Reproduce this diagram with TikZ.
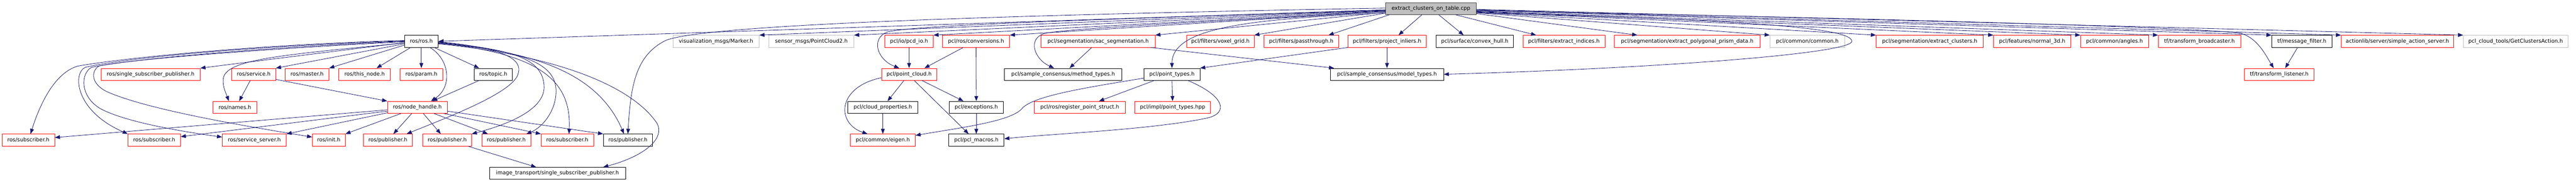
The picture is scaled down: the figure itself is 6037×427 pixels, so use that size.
\documentclass[tikz,border=0pt]{standalone}
\usepackage{fontspec}
\setmainfont{DejaVu Sans}
\usetikzlibrary{arrows.meta}
\definecolor{edgeblue}{HTML}{191970}
\definecolor{nodegray}{HTML}{BFBFBF}
\tikzset{
  filebox/.style={draw,rectangle,minimum height=28pt,inner sep=0pt,line width=1pt,fill=white,
    font=\fontsize{12.4}{14}\selectfont},
  redfile/.style={filebox,draw=red},
  blackfile/.style={filebox,draw=black},
  grayfile/.style={filebox,draw=nodegray},
  rootfile/.style={filebox,draw=black!75,fill=nodegray},
  every scope/.style={>={Triangle[length=12pt,width=9pt]},line width=1pt},
  incl/.style={->,draw=edgeblue}
}

\begin{document}
\begin{tikzpicture}[x=1pt,y=-1pt]
\useasboundingbox (0,0) rectangle (6037,427);
\begin{scope}
% the source file
\node[rootfile,minimum width=213pt] (R) at (3353.5,20) {extract\_clusters\_on\_table.cpp};

% row 1
\node[blackfile,minimum width=79pt]  (rosh)    at (987.5,97)  {ros/ros.h};
\node[grayfile,minimum width=202pt]  (marker)  at (1678,97)   {visualization\_msgs/Marker.h};
\node[grayfile,minimum width=199pt]  (pc2)     at (1901.5,97) {sensor\_msgs/PointCloud2.h};
\node[redfile,minimum width=113pt]   (pcdio)   at (2130.5,97) {pcl/io/pcd\_io.h};
\node[redfile,minimum width=157pt]   (conv)    at (2287.5,97) {pcl/ros/conversions.h};
\node[redfile,minimum width=267pt]   (sacseg)  at (2573.5,97) {pcl/segmentation/sac\_segmentation.h};
\node[redfile,minimum width=158pt]   (voxel)   at (2860,97)   {pcl/filters/voxel\_grid.h};
\node[redfile,minimum width=175pt]   (pass)    at (3049.5,97) {pcl/filters/passthrough.h};
\node[redfile,minimum width=183pt]   (projinl) at (3250.5,97) {pcl/filters/project\_inliers.h};
\node[blackfile,minimum width=182pt] (hull)    at (3456,97)   {pcl/surface/convex\_hull.h};
\node[redfile,minimum width=192pt]   (extind)  at (3665,97)   {pcl/filters/extract\_indices.h};
\node[redfile,minimum width=342pt]   (prism)   at (3954,97)   {pcl/segmentation/extract\_polygonal\_prism\_data.h};
\node[grayfile,minimum width=175pt]  (common)  at (4235.5,97) {pcl/common/common.h};
\node[redfile,minimum width=251pt]   (extclu)  at (4522.5,97) {pcl/segmentation/extract\_clusters.h};
\node[redfile,minimum width=181pt]   (normal)  at (4762.5,97) {pcl/features/normal\_3d.h};
\node[redfile,minimum width=159pt]   (angles)  at (4955.5,97) {pcl/common/angles.h};
\node[redfile,minimum width=193pt]   (tfbc)    at (5154.5,97) {tf/transform\_broadcaster.h};
\node[blackfile,minimum width=141pt] (msgfilt) at (5394.5,97) {tf/message\_filter.h};
\node[redfile,minimum width=263pt]   (sas)     at (5618.5,97) {actionlib/server/simple\_action\_server.h};
\node[grayfile,minimum width=245pt]  (getcl)   at (5895.5,97) {pcl\_cloud\_tools/GetClustersAction.h};

% row 2
\node[redfile,minimum width=232pt]   (ssp)      at (353,174.5)    {ros/single\_subscriber\_publisher.h};
\node[redfile,minimum width=103pt]   (service)  at (594.5,174.5)  {ros/service.h};
\node[redfile,minimum width=103pt]   (master)   at (719.5,174.5)  {ros/master.h};
\node[redfile,minimum width=121pt]   (thisnode) at (854.5,174.5)  {ros/this\_node.h};
\node[redfile,minimum width=101pt]   (param)    at (987.5,174.5)  {ros/param.h};
\node[blackfile,minimum width=90pt]  (topic)    at (1156,174.5)   {ros/topic.h};
\node[redfile,minimum width=129pt]   (ptcloud)  at (2130.5,174.5) {pcl/point\_cloud.h};
\node[blackfile,minimum width=275pt] (method)   at (2491.5,174.5) {pcl/sample\_consensus/method\_types.h};
\node[blackfile,minimum width=131pt] (ptypes)   at (2746.5,174.5) {pcl/point\_types.h};
\node[blackfile,minimum width=265pt] (model)    at (3250.5,174.5) {pcl/sample\_consensus/model\_types.h};
\node[redfile,minimum width=163pt]   (tflist)   at (5341.5,174.5) {tf/transform\_listener.h};

% row 3
\node[redfile,minimum width=103pt]   (names)  at (550.5,252) {ros/names.h};
\node[redfile,minimum width=140pt]   (nh)     at (978,252)   {ros/node\_handle.h};
\node[blackfile,minimum width=164pt] (cprop)  at (2069,252)  {pcl/cloud\_properties.h};
\node[blackfile,minimum width=126pt] (except) at (2288,252)  {pcl/exceptions.h};
\node[redfile,minimum width=213pt]   (regpt)  at (2530.5,252) {pcl/ros/register\_point\_struct.h};
\node[redfile,minimum width=178pt]   (implpt) at (2748,252)  {pcl/impl/point\_types.hpp};

% row 4
\node[redfile,minimum width=123pt]   (sub1)   at (66.5,329)   {ros/subscriber.h};
\node[redfile,minimum width=123pt]   (sub2)   at (361.5,329)  {ros/subscriber.h};
\node[redfile,minimum width=150pt]   (srvsrv) at (596,329)    {ros/service\_server.h};
\node[redfile,minimum width=77pt]    (init)   at (770.5,329)  {ros/init.h};
\node[redfile,minimum width=114pt]   (pub1)   at (909,329)    {ros/publisher.h};
\node[redfile,minimum width=114pt]   (pub2)   at (1048,329)   {ros/publisher.h};
\node[redfile,minimum width=115pt]   (pub3)   at (1186.5,329) {ros/publisher.h};
\node[redfile,minimum width=123pt]   (sub3)   at (1329.5,329) {ros/subscriber.h};
\node[blackfile,minimum width=115pt] (pub4)   at (1471.5,329) {ros/publisher.h};
\node[redfile,minimum width=152pt]   (eigen)  at (2069,329)   {pcl/common/eigen.h};
\node[blackfile,minimum width=130pt] (macros) at (2288,329)   {pcl/pcl\_macros.h};

% row 5
\node[blackfile,minimum width=319pt] (itssp) at (1306.5,407) {image\_transport/single\_subscriber\_publisher.h};

% includes of the source file, to the left
\draw[incl] ([yshift=-3pt]R.west) -- (rosh.east);
\draw[incl] ([yshift=1pt]R.west) .. controls (2200,38) and (1640,62) .. (1560,95)
                                  .. controls (1490,130) and (1478,200) .. (pub4.north);
\draw[incl] ([yshift=-4pt]R.west) -- (marker.north east);
\draw[incl] ([yshift=-5pt]R.west) -- (pc2.north east);
\draw[incl] ([yshift=-4pt]R.west) .. controls (2600,45) and (2150,58) .. (2080,75)
                                  .. controls (2040,90) and (2055,140) .. ([xshift=-23pt]ptcloud.north);
\draw[incl] ([yshift=-6pt]R.west) -- (pcdio.north east);
\draw[incl] ([yshift=-7pt]R.west) -- (conv.north east);
\draw[incl] ([yshift=-7pt]R.west) .. controls (2900,48) and (2520,65) .. (2450,78)
                                  .. controls (2405,90) and (2425,140) .. ([xshift=-21pt]method.north);
\draw[incl] ([yshift=-9pt]R.west) -- (sacseg.north east);
\draw[incl] ([yshift=-10pt]R.west) .. controls (2950,45) and (2747,60) .. (ptypes.north);
\draw[incl] ([yshift=-11pt]R.west) -- (voxel.north east);
\draw[incl] ([xshift=10pt]R.south west) -- ([xshift=-24pt]pass.north east);
\draw[incl] ([xshift=86pt]R.south west) -- ([xshift=27pt]projinl.north);
\draw[incl] ([xshift=125pt]R.south west) -- ([xshift=-26pt]hull.north);

% includes of the source file, to the right
\draw[incl] ([xshift=-50pt]R.south east) -- ([xshift=-65pt]extind.north);
\draw[incl] ([yshift=-12pt]R.east) -- ([xshift=-117pt]prism.north);
\draw[incl] ([yshift=-10pt]R.east) .. controls (4000,45) and (4340,60) .. (4340,97)
                                   .. controls (4340,125) and (3900,160) .. (model.east);
\draw[incl] ([yshift=-10pt]R.east) -- (common.north west);
\draw[incl] ([yshift=-9pt]R.east) -- (extclu.north west);
\draw[incl] ([yshift=-8pt]R.east) -- (normal.north west);
\draw[incl] ([yshift=-7pt]R.east) -- (angles.north west);
\draw[incl] ([yshift=-6pt]R.east) -- (tfbc.north west);
\draw[incl] ([yshift=-5pt]R.east) .. controls (4500,45) and (5150,65) .. (5250,78)
                                  .. controls (5290,88) and (5310,130) .. ([xshift=-13pt]tflist.north);
\draw[incl] ([yshift=-4pt]R.east) -- (msgfilt.north west);
\draw[incl] ([yshift=-3pt]R.east) -- (sas.north west);
\draw[incl] ([yshift=-2pt]R.east) -- (getcl.north west);

% ros/ros.h
\draw[incl] ([yshift=-3pt]rosh.west) -- (ssp.north east);
\draw[incl] ([yshift=-6pt]rosh.west) -- (service.north east);
\draw[incl] ([yshift=-9pt]rosh.west) -- (master.north east);
\draw[incl] ([xshift=-25pt]rosh.south) -- ([xshift=28pt]thisnode.north);
\draw[incl] (rosh.south) -- (param.north);
\draw[incl] ([xshift=30pt]rosh.south) -- ([xshift=-33pt]topic.north);
\draw[incl] ([xshift=20pt]rosh.south) .. controls (1055,140) and (1060,205) .. ([xshift=32pt]nh.north);
\draw[incl] ([yshift=-4pt]rosh.west) .. controls (650,130) and (525,140) .. (523,187)
                                     .. controls (522,205) and (530,220) .. ([xshift=-14pt]names.north);
\draw[incl] ([yshift=2pt]rosh.west) .. controls (600,105) and (300,135) .. (183,155)
                                    .. controls (130,170) and (95,240) .. ([xshift=5pt]sub1.north);
\draw[incl] ([yshift=1pt]rosh.west) .. controls (600,108) and (300,135) .. (200,158)
                                    .. controls (170,172) and (175,260) .. (sub2.north west);
\draw[incl] (rosh.west) .. controls (600,112) and (300,140) .. (215,158)
                        .. controls (190,170) and (185,225) .. (235,255)
                        .. controls (300,290) and (450,312) .. ([yshift=7pt]srvsrv.west);
\draw[incl] ([yshift=-1pt]rosh.west) .. controls (600,116) and (300,140) .. (232,155)
                                     .. controls (215,165) and (210,195) .. (250,215)
                                     .. controls (350,260) and (600,300) .. ([yshift=7pt]init.west);
\draw[incl] ([yshift=-1pt]rosh.east) .. controls (1150,110) and (1225,130) .. (1215,170)
                                     .. controls (1210,215) and (1050,275) .. ([xshift=44pt]pub1.north);
\draw[incl] ([yshift=-2pt]rosh.east) .. controls (1180,115) and (1270,130) .. (1275,200)
                                     .. controls (1280,260) and (1180,295) .. (pub2.north east);
\draw[incl] ([yshift=-3pt]rosh.east) .. controls (1200,118) and (1300,140) .. (1303,210)
                                     .. controls (1305,260) and (1270,300) .. ([xshift=47pt]pub3.north);
\draw[incl] ([yshift=-4pt]rosh.east) .. controls (1250,125) and (1340,180) .. ([xshift=4pt]sub3.north);
\draw[incl] ([yshift=-5pt]rosh.east) .. controls (1250,120) and (1400,170) .. ([xshift=-9pt]pub4.north);
\draw[incl] ([yshift=-6pt]rosh.east) .. controls (1300,130) and (1480,200) .. (1540,290)
                                     .. controls (1560,330) and (1500,370) .. ([xshift=107pt]itssp.north);

% ros/node_handle.h and friends
\draw[incl] ([yshift=-6pt]nh.west) -- ([yshift=6pt]sub1.east);
\draw[incl] ([yshift=-9pt]nh.west) -- ([yshift=8pt]sub2.east);
\draw[incl] ([yshift=-13pt]nh.west) -- (srvsrv.north east);
\draw[incl] ([xshift=-38pt]nh.south) -- (init.north east);
\draw[incl] ([xshift=-13pt]nh.south) -- ([xshift=13pt]pub1.north);
\draw[incl] ([xshift=14pt]nh.south) -- ([xshift=-15pt]pub2.north);
\draw[incl] ([xshift=39pt]nh.south) -- ([xshift=-43pt]pub3.north);
\draw[incl] ([xshift=62pt]nh.south) -- (sub3.north west);
\draw[incl] ([yshift=-9pt]nh.east) -- (pub4.north west);
\draw[incl] ([xshift=-8pt]service.south) -- ([xshift=10pt]names.north);
\draw[incl] ([yshift=-12pt]service.east) -- (nh.north west);
\draw[incl] ([xshift=-33pt]topic.south) -- ([xshift=35pt]nh.north);
\draw[incl] ([xshift=49pt]pub2.south) -- ([xshift=-50pt]itssp.north);

% pcl headers
\draw[incl] (pcdio.south) -- (ptcloud.north);
\draw[incl] ([xshift=-30pt]conv.south) -- ([xshift=36pt]ptcloud.north);
\draw[incl] (conv.south) -- (except.north);
\draw[incl] ([xshift=-12pt]ptcloud.south) -- ([xshift=11pt]cprop.north);
\draw[incl] ([xshift=12pt]ptcloud.south) -- ([xshift=-18pt]macros.north);
\draw[incl] ([xshift=30pt]ptcloud.south) -- ([xshift=-30pt]except.north);
\draw[incl] ([yshift=-8pt]ptcloud.west) .. controls (1960,205) and (1960,290) .. ([xshift=-36pt]eigen.north);
\draw[incl] (cprop.south) -- (eigen.north);
\draw[incl] (except.south) -- (macros.north);
\draw[incl] ([yshift=-9pt]ptypes.west) .. controls (2550,205) and (2420,225) .. (2395,255)
                                       .. controls (2370,285) and (2250,300) .. ([yshift=11pt]eigen.east);
\draw[incl] ([xshift=37pt]ptypes.south) .. controls (2870,225) and (2880,265) .. (2830,277)
                                        .. controls (2700,305) and (2450,315) .. ([yshift=3pt]macros.east);
\draw[incl] ([xshift=-41pt]ptypes.south) -- ([xshift=45pt]regpt.north);
\draw[incl] (ptypes.south) -- (implpt.north);
\draw[incl] ([xshift=-15pt]sacseg.south) -- ([xshift=15pt]method.north);
\draw[incl] ([xshift=123pt]sacseg.south) -- ([xshift=-124pt]model.north);
\draw[incl] (projinl.south west) -- (ptypes.north east);
\draw[incl] (projinl.south) -- (model.north);
\draw[incl] ([xshift=-10pt]msgfilt.south) -- ([xshift=14pt]tflist.north);
\end{scope}
\end{tikzpicture}
\end{document}
